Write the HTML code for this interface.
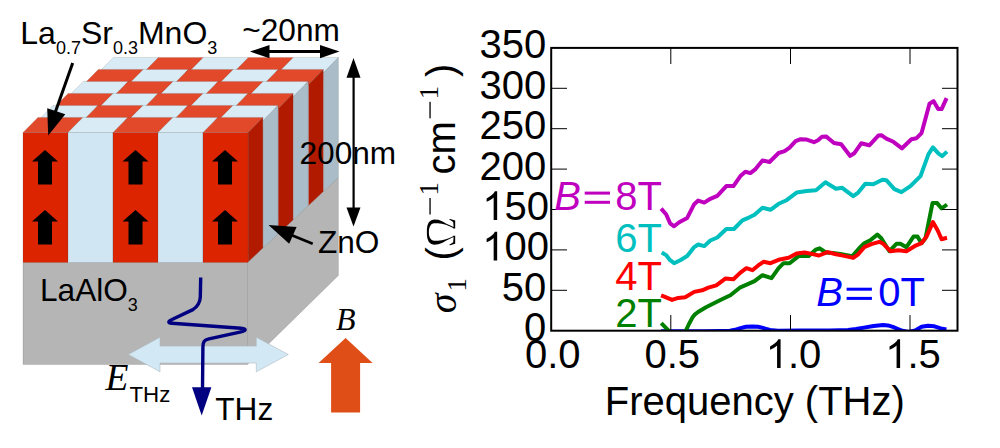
<!DOCTYPE html>
<html><head><meta charset="utf-8"><title>figure</title>
<style>
html,body{margin:0;padding:0;background:#fff;overflow:hidden;}
svg{display:block;}
text{font-family:"Liberation Sans",sans-serif;fill:#000;}
.s{font-family:"Liberation Serif",serif;}
</style></head><body>
<svg width="1000" height="448" viewBox="0 0 1000 448">
<rect width="1000" height="448" fill="#fff"/>
<!-- 3D structure -->
<polygon points="247.5,262.5 338.4,177.5 338.4,275.5 247.5,364.5" fill="#B5B5B5" stroke="#404040" stroke-opacity="0.4" stroke-width="0.4"/>
<rect x="23" y="262.5" width="224.5" height="102" fill="#B5B5B5" stroke="#404040" stroke-opacity="0.4" stroke-width="0.4"/>
<polygon points="113.4,57.4 158.4,57.4 143.6,72.6 98.6,72.6" fill="#D9ECF6" stroke="#404040" stroke-opacity="0.4" stroke-width="0.4"/>
<polygon points="158.4,57.4 203.4,57.4 188.6,72.6 143.6,72.6" fill="#E2492B" stroke="#404040" stroke-opacity="0.4" stroke-width="0.4"/>
<polygon points="203.4,57.4 248.4,57.4 233.6,72.6 188.6,72.6" fill="#D9ECF6" stroke="#404040" stroke-opacity="0.4" stroke-width="0.4"/>
<polygon points="248.4,57.4 293.4,57.4 278.6,72.6 233.6,72.6" fill="#E2492B" stroke="#404040" stroke-opacity="0.4" stroke-width="0.4"/>
<polygon points="293.4,57.4 338.4,57.4 323.6,72.6 278.6,72.6" fill="#D9ECF6" stroke="#404040" stroke-opacity="0.4" stroke-width="0.4"/>
<polygon points="338.4,57.4 338.4,177.5 323.6,191.3 323.6,72.6" fill="#A9BCC8" stroke="#404040" stroke-opacity="0.4" stroke-width="0.4"/>
<polygon points="98.3,69.4 143.3,69.4 128.5,84.6 83.5,84.6" fill="#E2492B" stroke="#404040" stroke-opacity="0.4" stroke-width="0.4"/>
<polygon points="143.3,69.4 188.3,69.4 173.5,84.6 128.5,84.6" fill="#D9ECF6" stroke="#404040" stroke-opacity="0.4" stroke-width="0.4"/>
<polygon points="188.3,69.4 233.3,69.4 218.5,84.6 173.5,84.6" fill="#E2492B" stroke="#404040" stroke-opacity="0.4" stroke-width="0.4"/>
<polygon points="233.3,69.4 278.3,69.4 263.5,84.6 218.5,84.6" fill="#D9ECF6" stroke="#404040" stroke-opacity="0.4" stroke-width="0.4"/>
<polygon points="278.3,69.4 323.3,69.4 308.5,84.6 263.5,84.6" fill="#E2492B" stroke="#404040" stroke-opacity="0.4" stroke-width="0.4"/>
<polygon points="323.3,69.4 323.3,191.6 308.5,205.5 308.5,84.6" fill="#B21A00" stroke="#404040" stroke-opacity="0.4" stroke-width="0.4"/>
<polygon points="83.2,81.4 128.2,81.4 113.4,96.6 68.4,96.6" fill="#D9ECF6" stroke="#404040" stroke-opacity="0.4" stroke-width="0.4"/>
<polygon points="128.2,81.4 173.2,81.4 158.4,96.6 113.4,96.6" fill="#E2492B" stroke="#404040" stroke-opacity="0.4" stroke-width="0.4"/>
<polygon points="173.2,81.4 218.2,81.4 203.4,96.6 158.4,96.6" fill="#D9ECF6" stroke="#404040" stroke-opacity="0.4" stroke-width="0.4"/>
<polygon points="218.2,81.4 263.2,81.4 248.4,96.6 203.4,96.6" fill="#E2492B" stroke="#404040" stroke-opacity="0.4" stroke-width="0.4"/>
<polygon points="263.2,81.4 308.2,81.4 293.4,96.6 248.4,96.6" fill="#D9ECF6" stroke="#404040" stroke-opacity="0.4" stroke-width="0.4"/>
<polygon points="308.2,81.4 308.2,205.7 293.4,219.6 293.4,96.6" fill="#A9BCC8" stroke="#404040" stroke-opacity="0.4" stroke-width="0.4"/>
<polygon points="68.1,93.4 113.1,93.4 98.3,108.6 53.3,108.6" fill="#E2492B" stroke="#404040" stroke-opacity="0.4" stroke-width="0.4"/>
<polygon points="113.1,93.4 158.1,93.4 143.3,108.6 98.3,108.6" fill="#D9ECF6" stroke="#404040" stroke-opacity="0.4" stroke-width="0.4"/>
<polygon points="158.1,93.4 203.1,93.4 188.3,108.6 143.3,108.6" fill="#E2492B" stroke="#404040" stroke-opacity="0.4" stroke-width="0.4"/>
<polygon points="203.1,93.4 248.1,93.4 233.3,108.6 188.3,108.6" fill="#D9ECF6" stroke="#404040" stroke-opacity="0.4" stroke-width="0.4"/>
<polygon points="248.1,93.4 293.1,93.4 278.3,108.6 233.3,108.6" fill="#E2492B" stroke="#404040" stroke-opacity="0.4" stroke-width="0.4"/>
<polygon points="293.1,93.4 293.1,219.9 278.3,233.7 278.3,108.6" fill="#B21A00" stroke="#404040" stroke-opacity="0.4" stroke-width="0.4"/>
<polygon points="53.0,105.4 98.0,105.4 83.2,120.6 38.2,120.6" fill="#D9ECF6" stroke="#404040" stroke-opacity="0.4" stroke-width="0.4"/>
<polygon points="98.0,105.4 143.0,105.4 128.2,120.6 83.2,120.6" fill="#E2492B" stroke="#404040" stroke-opacity="0.4" stroke-width="0.4"/>
<polygon points="143.0,105.4 188.0,105.4 173.2,120.6 128.2,120.6" fill="#D9ECF6" stroke="#404040" stroke-opacity="0.4" stroke-width="0.4"/>
<polygon points="188.0,105.4 233.0,105.4 218.2,120.6 173.2,120.6" fill="#E2492B" stroke="#404040" stroke-opacity="0.4" stroke-width="0.4"/>
<polygon points="233.0,105.4 278.0,105.4 263.2,120.6 218.2,120.6" fill="#D9ECF6" stroke="#404040" stroke-opacity="0.4" stroke-width="0.4"/>
<polygon points="278.0,105.4 278.0,234.0 263.2,247.8 263.2,120.6" fill="#A9BCC8" stroke="#404040" stroke-opacity="0.4" stroke-width="0.4"/>
<polygon points="37.9,117.4 82.9,117.4 68.1,132.6 23.1,132.6" fill="#E2492B" stroke="#404040" stroke-opacity="0.4" stroke-width="0.4"/>
<polygon points="82.9,117.4 127.9,117.4 113.1,132.6 68.1,132.6" fill="#D9ECF6" stroke="#404040" stroke-opacity="0.4" stroke-width="0.4"/>
<polygon points="127.9,117.4 172.9,117.4 158.1,132.6 113.1,132.6" fill="#E2492B" stroke="#404040" stroke-opacity="0.4" stroke-width="0.4"/>
<polygon points="172.9,117.4 217.9,117.4 203.1,132.6 158.1,132.6" fill="#D9ECF6" stroke="#404040" stroke-opacity="0.4" stroke-width="0.4"/>
<polygon points="217.9,117.4 262.9,117.4 248.1,132.6 203.1,132.6" fill="#E2492B" stroke="#404040" stroke-opacity="0.4" stroke-width="0.4"/>
<polygon points="262.9,117.4 262.9,248.1 248.1,261.9 248.1,132.6" fill="#B21A00" stroke="#404040" stroke-opacity="0.4" stroke-width="0.4"/>
<rect x="23.0" y="132.6" width="45.0" height="129.9" fill="#DC2400" stroke="#404040" stroke-opacity="0.4" stroke-width="0.4"/>
<rect x="68.0" y="132.6" width="45.0" height="129.9" fill="#D0E6F3" stroke="#404040" stroke-opacity="0.4" stroke-width="0.4"/>
<rect x="113.0" y="132.6" width="45.0" height="129.9" fill="#DC2400" stroke="#404040" stroke-opacity="0.4" stroke-width="0.4"/>
<rect x="158.0" y="132.6" width="45.0" height="129.9" fill="#D0E6F3" stroke="#404040" stroke-opacity="0.4" stroke-width="0.4"/>
<rect x="203.0" y="132.6" width="45.0" height="129.9" fill="#DC2400" stroke="#404040" stroke-opacity="0.4" stroke-width="0.4"/>
<polygon points="45.0,150.0 58.0,161.5 52.0,161.5 52.0,184.5 38.0,184.5 38.0,161.5 32.0,161.5" fill="#000"/>
<polygon points="45.0,210.0 58.0,221.5 52.0,221.5 52.0,244.5 38.0,244.5 38.0,221.5 32.0,221.5" fill="#000"/>
<polygon points="135.5,150.0 148.5,161.5 142.5,161.5 142.5,184.5 128.5,184.5 128.5,161.5 122.5,161.5" fill="#000"/>
<polygon points="135.5,210.0 148.5,221.5 142.5,221.5 142.5,244.5 128.5,244.5 128.5,221.5 122.5,221.5" fill="#000"/>
<polygon points="225.0,150.0 238.0,161.5 232.0,161.5 232.0,184.5 218.0,184.5 218.0,161.5 212.0,161.5" fill="#000"/>
<polygon points="225.0,210.0 238.0,221.5 232.0,221.5 232.0,244.5 218.0,244.5 218.0,221.5 212.0,221.5" fill="#000"/>
<!-- title label -->
<text x="20.3" y="43.5" font-size="32">La<tspan font-size="18" dy="10.3">0.7</tspan><tspan dy="-10.3">Sr</tspan><tspan font-size="18" dy="10.3">0.3</tspan><tspan dy="-10.3">MnO</tspan><tspan font-size="18" dy="10.3">3</tspan></text>
<line x1="72.7" y1="63" x2="55" y2="113" stroke="#000" stroke-width="3"/>
<polygon points="48.2,135.4 47.2,108.3 65.3,114.3" fill="#000"/>
<!-- ~20nm -->
<text x="242.3" y="41.3" font-size="31.6">~20nm</text>
<line x1="262" y1="51.6" x2="328" y2="51.6" stroke="#000" stroke-width="3"/>
<polygon points="250,51.6 269.5,45 269.5,58.2" fill="#000"/>
<polygon points="339.5,51.6 320,45 320,58.2" fill="#000"/>
<!-- 200nm -->
<line x1="353.6" y1="70" x2="353.6" y2="215" stroke="#000" stroke-width="2.2"/>
<polygon points="353.5,58 346.5,77.8 360.5,77.8" fill="#000"/>
<polygon points="353.5,226.5 346.5,207.5 360.5,207.5" fill="#000"/>
<text x="299.5" y="164.4" font-size="31.6">200nm</text>
<!-- ZnO -->
<text x="318" y="252.6" font-size="31.6">ZnO</text>
<line x1="312.7" y1="243.8" x2="290" y2="234.5" stroke="#000" stroke-width="2.6"/>
<polygon points="268.5,225.1 296.6,227.1 289.2,243.8" fill="#000"/>
<!-- LaAlO3 -->
<text x="40" y="300.7" font-size="31.6">LaAlO<tspan font-size="18" dy="10.3">3</tspan></text>
<!-- E-field double arrow -->
<polygon points="128.3,354.5 160,337.2 160,346.1 256.3,346.1 256.3,337.2 288.3,354.5 256.3,371.8 256.3,363 160,363 160,371.8" fill="#D2E8F5" stroke="#aeb9c0" stroke-width="0.6"/>
<!-- THz pulse -->
<path d="M200.7,277.5 L200.3,297 C200,304 197,307 192.9,309.6 L172,319.5 C167.5,321.5 168,323 172,323.3 L241,328.3 C246.5,328.8 246.5,330.5 241,331.8 L209,338.8 C204,340 203,342 202.9,347 L202.5,390" fill="none" stroke="#000080" stroke-width="3.4" stroke-linejoin="round"/>
<polygon points="192,387.2 211.4,387.2 201.7,415.6" fill="#000080"/>
<text x="215.3" y="419.7" font-size="31.6">THz</text>
<text class="s" x="105.5" y="389.5" font-size="37.6" font-style="italic">E</text>
<text x="129.5" y="402.3" font-size="22.3">THz</text>
<!-- B arrow -->
<polygon points="345.6,338.0 372.6,363.0 360.1,363.0 360.1,412.5 331.1,412.5 331.1,363.0 318.6,363.0" fill="#E04E18"/>
<text class="s" x="336" y="329.8" font-size="32" font-style="italic">B</text>

<!-- chart -->
<defs><clipPath id="pc"><rect x="551" y="48" width="407" height="283"/></clipPath></defs>
<g clip-path="url(#pc)">
<polyline fill="none" stroke="#0000FF" stroke-width="4" stroke-linejoin="round" stroke-linecap="butt" points="661.0,331.3 705.0,331.3 720.0,331.0 730.0,330.8 735.0,329.8 739.6,328.4 746.0,326.8 752.4,326.4 758.0,326.8 762.0,327.6 766.0,328.8 770.0,330.0 778.0,330.8 800.0,330.5 830.0,330.4 848.0,330.0 856.0,329.0 864.0,327.6 873.6,326.0 883.2,324.9 888.0,325.4 892.8,326.8 898.0,329.0 902.4,330.8 908.8,332.0 915.2,330.5 921.6,326.8 928.0,325.7 934.4,326.3 940.8,328.4 946.4,329.5"/>
<polyline fill="none" stroke="#008000" stroke-width="4" stroke-linejoin="round" stroke-linecap="butt" points="661.2,323.2 668.4,330.4 673.0,336.0 680.0,338.0 686.0,330.4 689.0,324.0 692.4,317.6 695.0,314.3 698.0,312.0 706.0,307.2 720.4,300.0 730.4,295.3 740.4,287.3 748.4,283.9 754.5,281.2 762.5,275.2 771.5,278.2 778.6,268.2 783.6,263.2 789.6,263.2 798.6,256.1 808.7,256.0 815.7,249.7 819.7,248.3 825.7,252.5 832.8,253.0 840.2,253.9 852.2,256.3 859.2,248.2 864.3,243.2 870.3,240.2 877.3,234.6 881.3,238.2 889.4,251.2 896.4,243.8 900.4,243.8 906.4,247.2 913.5,236.6 917.5,236.6 921.5,243.2 925.5,238.2 932.5,203.1 937.1,203.1 941.6,208.5 947.0,204.5"/>
<polyline fill="none" stroke="#FF0000" stroke-width="4" stroke-linejoin="round" stroke-linecap="butt" points="661.1,295.3 666.1,297.3 672.1,299.9 678.2,297.9 685.2,297.3 694.2,291.9 702.2,290.3 708.3,287.7 716.3,285.3 725.3,278.6 733.4,279.2 740.4,272.6 746.4,268.2 752.4,270.2 758.5,265.2 763.5,261.8 770.5,263.2 778.6,259.8 788.6,257.8 796.6,253.5 804.7,252.5 812.7,254.1 819.0,255.5 827.5,252.1 836.1,254.3 844.2,255.9 853.2,257.9 858.2,254.3 864.3,247.2 871.3,244.2 879.3,241.8 883.3,243.8 890.4,251.2 898.4,250.2 906.4,251.2 914.5,246.2 921.5,243.2 926.5,236.6 932.9,222.1 937.6,230.2 941.6,239.2 947.0,237.8"/>
<polyline fill="none" stroke="#00BFBF" stroke-width="4" stroke-linejoin="round" stroke-linecap="butt" points="661.7,252.5 666.1,255.1 670.1,260.2 674.1,263.2 680.2,260.2 687.2,256.1 694.2,247.1 698.2,244.5 704.3,246.1 710.3,240.5 717.3,237.5 726.3,229.0 733.9,229.0 742.4,220.3 749.4,217.3 754.5,214.7 762.5,207.8 770.5,209.8 778.6,203.8 786.6,200.2 796.6,192.6 806.7,191.0 816.0,190.2 825.5,182.3 829.0,184.5 836.0,188.8 842.2,187.8 853.2,196.2 858.2,192.6 865.3,183.8 873.3,184.2 882.3,179.8 886.3,180.2 894.4,189.2 901.4,192.2 910.4,186.2 920.5,176.1 928.5,154.1 932.9,147.4 938.6,153.7 942.2,156.1 947.0,151.6"/>
<polyline fill="none" stroke="#BF00BF" stroke-width="4" stroke-linejoin="round" stroke-linecap="butt" points="661.1,208.6 666.1,214.3 670.1,223.3 674.1,226.3 679.2,222.3 687.2,217.9 694.2,204.2 698.2,200.6 704.3,202.6 710.3,198.8 717.3,195.8 726.3,186.1 733.4,186.1 740.4,176.1 745.4,171.7 750.4,173.1 755.5,169.1 762.5,160.4 769.5,162.0 778.6,153.0 784.6,151.2 789.6,147.7 795.6,141.2 800.6,139.2 806.0,139.4 814.0,142.2 818.0,140.2 822.0,136.7 826.0,136.4 834.0,143.0 841.2,144.3 850.2,155.9 854.2,153.3 861.2,143.3 869.3,145.3 878.3,135.6 881.3,135.2 886.3,138.6 893.4,141.8 902.0,148.3 911.4,139.2 916.5,138.2 921.5,133.2 929.5,103.7 933.5,101.1 938.2,109.1 941.6,109.1 946.6,98.1"/>
</g>
<line x1="551" y1="88.3" x2="567" y2="88.3" stroke="#000" stroke-width="1"/>
<line x1="942" y1="88.3" x2="958" y2="88.3" stroke="#000" stroke-width="1"/>
<line x1="551" y1="128.7" x2="567" y2="128.7" stroke="#000" stroke-width="1"/>
<line x1="942" y1="128.7" x2="958" y2="128.7" stroke="#000" stroke-width="1"/>
<line x1="551" y1="169.1" x2="567" y2="169.1" stroke="#000" stroke-width="1"/>
<line x1="942" y1="169.1" x2="958" y2="169.1" stroke="#000" stroke-width="1"/>
<line x1="551" y1="209.5" x2="567" y2="209.5" stroke="#000" stroke-width="1"/>
<line x1="942" y1="209.5" x2="958" y2="209.5" stroke="#000" stroke-width="1"/>
<line x1="551" y1="249.9" x2="567" y2="249.9" stroke="#000" stroke-width="1"/>
<line x1="942" y1="249.9" x2="958" y2="249.9" stroke="#000" stroke-width="1"/>
<line x1="551" y1="290.3" x2="567" y2="290.3" stroke="#000" stroke-width="1"/>
<line x1="942" y1="290.3" x2="958" y2="290.3" stroke="#000" stroke-width="1"/>
<line x1="670.8" y1="48" x2="670.8" y2="64" stroke="#000" stroke-width="1"/>
<line x1="670.8" y1="331" x2="670.8" y2="315" stroke="#000" stroke-width="1"/>
<line x1="790.5" y1="48" x2="790.5" y2="64" stroke="#000" stroke-width="1"/>
<line x1="790.5" y1="331" x2="790.5" y2="315" stroke="#000" stroke-width="1"/>
<line x1="910.0" y1="48" x2="910.0" y2="64" stroke="#000" stroke-width="1"/>
<line x1="910.0" y1="331" x2="910.0" y2="315" stroke="#000" stroke-width="1"/>
<rect x="551.2" y="47.9" width="406.3" height="282.8" fill="none" stroke="#000" stroke-width="2"/>
<text x="546.3" y="58.4" font-size="40" text-anchor="end">350</text>
<text x="546.3" y="98.8" font-size="40" text-anchor="end">300</text>
<text x="546.3" y="139.2" font-size="40" text-anchor="end">250</text>
<text x="546.3" y="179.6" font-size="40" text-anchor="end">200</text>
<path fill="#000" d="M497.16,220.00 H493.65 V197.60 Q492.38,198.81 490.32,200.02 Q488.26,201.23 486.62,201.84 V198.44 Q489.57,197.05 491.77,195.08 Q493.98,193.11 494.90,191.25 H497.16 Z"/>
<text x="549.0" y="220.0" font-size="40" text-anchor="end">50</text>
<path fill="#000" d="M497.16,260.40 H493.65 V238.00 Q492.38,239.21 490.32,240.42 Q488.26,241.63 486.62,242.24 V238.84 Q489.57,237.45 491.77,235.48 Q493.98,233.51 494.90,231.65 H497.16 Z"/>
<text x="549.0" y="260.4" font-size="40" text-anchor="end">00</text>
<text x="546.3" y="300.8" font-size="40" text-anchor="end">50</text>
<text x="546.3" y="341.2" font-size="40" text-anchor="end">0</text>
<text x="552.7" y="368" font-size="40" text-anchor="middle">0.0</text>
<text x="672.3" y="368" font-size="40" text-anchor="middle">0.5</text>
<path fill="#000" d="M780.60,368.00 H777.08 V345.60 Q775.81,346.81 773.75,348.02 Q771.69,349.23 770.05,349.84 V346.44 Q773.00,345.05 775.21,343.08 Q777.42,341.11 778.33,339.25 H780.60 Z"/>
<text x="787.94" y="368" font-size="40">.0</text>
<path fill="#000" d="M900.10,368.00 H896.58 V345.60 Q895.31,346.81 893.25,348.02 Q891.19,349.23 889.55,349.84 V346.44 Q892.50,345.05 894.71,343.08 Q896.92,341.11 897.83,339.25 H900.10 Z"/>
<text x="907.44" y="368" font-size="40">.5</text>
<text x="754.8" y="415" font-size="40" text-anchor="middle">Frequency (THz)</text>
<!-- curve labels -->
<g font-size="40">
<text x="554.2" y="209.7" font-style="italic" style="fill:#BF00BF">B</text>
<rect x="584.7" y="191.6" width="25.3" height="3" fill="#BF00BF"/><rect x="584.7" y="200.8" width="25.3" height="3" fill="#BF00BF"/>
<text x="661.9" y="209.7" text-anchor="end" style="fill:#BF00BF">8T</text>
<text x="661.9" y="252" text-anchor="end" style="fill:#00BFBF">6T</text>
<text x="661.9" y="289.6" text-anchor="end" style="fill:#FF0000">4T</text>
<text x="661.9" y="326.6" text-anchor="end" style="fill:#008000">2T</text>
<text x="816.3" y="305.8" font-style="italic" style="fill:#0000FF">B</text>
<rect x="846.6" y="287.7" width="25.3" height="3" fill="#0000FF"/><rect x="846.6" y="296.9" width="25.3" height="3" fill="#0000FF"/>
<text x="925" y="305.8" text-anchor="end" style="fill:#0000FF">0T</text>
</g>
<!-- y axis label -->
<polygon fill="#000" points="426.88,232.09 426.93,228.73 427.41,225.60 428.80,222.17 431.32,220.16 434.01,219.47 438.41,219.81 442.54,221.54 446.41,223.73 450.39,225.62 453.61,227.06 453.17,222.04 448.99,219.23 450.19,218.98 455.18,220.43 455.18,228.47 453.17,228.47 453.21,227.94 450.00,226.50 445.94,224.85 441.77,223.82 437.86,223.30 434.22,223.32 432.90,223.59 431.40,224.32 429.89,226.52 429.08,229.01 428.81,232.09 428.81,232.09 429.08,235.16 429.89,237.65 431.40,239.85 432.90,240.58 434.22,240.85 437.86,240.87 441.77,240.35 445.94,239.33 450.00,237.68 453.21,236.23 453.17,235.70 455.18,235.70 455.18,243.74 450.19,245.19 448.99,244.95 453.17,242.14 453.61,237.11 450.39,238.56 446.41,240.44 442.54,242.63 438.41,244.36 434.01,244.70 431.32,244.01 428.80,242.01 427.41,238.58 426.93,235.45 426.88,232.09"/>
<g transform="translate(455.3,0) rotate(-90)">
<text class="s" x="-313.2" y="0.3" font-size="40" font-style="italic">σ</text>
<text class="s" x="-291.5" y="10.7" font-size="27">1</text>
<text x="-260.5" y="0" font-size="40">(</text>
<rect x="-214.5" y="-25.9" width="16.5" height="1.3" fill="#000"/>
<text class="s" x="-195.5" y="-17.5" font-size="27">1</text>
<text x="-174.5" y="0" font-size="40">cm</text>
<rect x="-118.3" y="-25.9" width="16.5" height="1.3" fill="#000"/>
<text class="s" x="-99.3" y="-17.5" font-size="27">1</text>
<text x="-77" y="0" font-size="40">)</text>
</g>
</svg>
</body></html>
